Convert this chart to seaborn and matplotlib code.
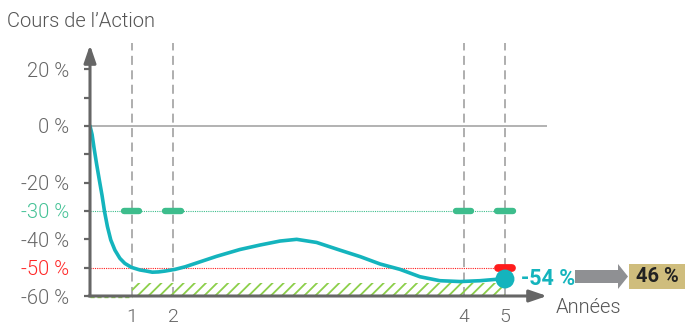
import matplotlib
matplotlib.use("Agg")
import matplotlib.pyplot as plt
import matplotlib.transforms as mtransforms
from matplotlib.patches import FancyArrow, Rectangle
import seaborn as sns

# Share price path (% vs. initial level). Horizontal axis: years 1, 2, 4, 5
# sit at positions 1, 2, 9 and 10 (the middle years are stretched out).
path_x = [0.00, 0.05, 0.10, 0.16, 0.23, 0.29, 0.35, 0.42, 0.50, 0.60, 0.72,
          0.84, 1.00, 1.20, 1.36, 1.50, 1.65, 1.81, 2.05, 2.29, 3.05, 3.61,
          4.10, 4.58, 4.98, 5.46, 6.02, 6.51, 6.99, 7.47, 7.95, 8.43, 8.92,
          9.40, 9.80, 10.00]
path_y = [0.0, -3.0, -8.0, -13.5, -19.5, -24.5, -30.2, -35.5, -40.2, -43.8,
          -46.7, -48.5, -49.9, -50.8, -51.2, -51.6, -51.5, -51.2, -50.6, -49.7,
          -46.0, -43.6, -42.0, -40.6, -40.0, -41.1, -43.8, -46.1, -48.7, -50.6,
          -53.2, -54.6, -54.9, -54.6, -54.1, -54.0]

year_labels = ["1", "2", "4", "5"]
year_pos = [1, 2, 9, 10]

y_ticks = [20, 10, 0, -10, -20, -30, -40, -50, -60]
y_labels = ["20 %", "", "0 %", "", "-20 %", "-30 %", "-40 %", "-50 %", "-60 %"]

coupon_barrier = -30      # green observation level
capital_barrier = -50     # red level at maturity
loss_zone_top = -55.3     # hatched loss zone
final_value = -54
final_label = "-54 %"
payout_label = "46 %"

TEAL = "#14b4bd"
GREEN = "#3dbd8c"
RED = "#ff1c1c"
LIME = "#8ccf4a"
AXIS = "#666666"
TXT = "#666666"
FONT = ["Roboto", "DejaVu Sans"]

sns.set_theme(style="white")
plt.rcParams["font.family"] = FONT
plt.rcParams["hatch.linewidth"] = 1.3

W, H, DPI = 686, 327, 100
fig = plt.figure(figsize=(W / DPI, H / DPI), dpi=DPI)
fig.patch.set_facecolor("white")

# axes box in pixels: left 90, right 547, top 45, bottom 296
ax = fig.add_axes([90 / W, (H - 296) / H, (547 - 90) / W, (296 - 45) / H])
ax.set_xlim(0, (547 - 90) / 41.5)
ax.set_ylim(-60, -60 + (296 - 45) / (170 / 60))
ax.set_facecolor("none")
for s in ax.spines.values():
    s.set_visible(False)

# reference lines
ax.axhline(0, color="#a5a5a5", lw=1.2, zorder=1)
ax.vlines(year_pos, -60, ax.get_ylim()[1] + 0.8, colors="#a8a8a8", lw=1.3,
          linestyles=(0, (5, 3)), clip_on=False, zorder=1)
ax.plot([0, year_pos[-1]], [coupon_barrier] * 2, color=GREEN, lw=0.8,
        ls=(0, (1, 1)), zorder=2)
ax.plot([0, year_pos[-1] - 0.2], [capital_barrier] * 2, color=RED, lw=0.8,
        ls=(0, (1, 1)), zorder=2)

# hatched loss zone
ax.fill_between([year_pos[0], year_pos[-1]], -60, loss_zone_top,
                facecolor="none", edgecolor=LIME, hatch="///", lw=0, zorder=1)
ax.plot([0, year_pos[0]], [-60.4, -60.4], color=LIME, lw=1.0, ls=(0, (3, 2)),
        clip_on=False, zorder=1)

# share price curve
sns.lineplot(x=path_x, y=path_y, ax=ax, color=TEAL, lw=2.6, zorder=4,
             solid_capstyle="round", solid_joinstyle="round")

# observation markers
for xp in year_pos:
    ax.plot([xp - 0.19, xp + 0.19], [coupon_barrier] * 2, color=GREEN,
            lw=4.6, solid_capstyle="round", zorder=5)
ax.plot([year_pos[-1] - 0.17, year_pos[-1] + 0.17], [capital_barrier] * 2,
        color=RED, lw=5.6, solid_capstyle="round", zorder=5)
sns.scatterplot(x=[year_pos[-1]], y=[final_value], ax=ax, s=185, color=TEAL,
                edgecolor="none", zorder=6, clip_on=False)

# axes with arrow heads
arrow_kw = dict(arrowstyle="-|>,head_length=1.05,head_width=0.36",
                color=AXIS, lw=2.2, shrinkA=0, shrinkB=0, mutation_scale=10)
ax.annotate("", xy=(0, ax.get_ylim()[1]), xytext=(0, -60),
            arrowprops=arrow_kw, annotation_clip=False, zorder=7)
ax.annotate("", xy=(ax.get_xlim()[1], -60), xytext=(-0.03, -60),
            arrowprops=arrow_kw, annotation_clip=False, zorder=7)

# ticks
ax.set_yticks(y_ticks, y_labels)
ax.set_xticks(year_pos, year_labels)
ax.tick_params(axis="y", direction="out", length=4, width=1.6, color=AXIS,
               pad=11, labelsize=14.5, labelcolor=TXT, left=True)
ax.tick_params(axis="x", length=0, pad=9, labelsize=14, labelcolor=TXT)
for lab in ax.get_yticklabels() + ax.get_xticklabels():
    lab.set_fontweight(300)
    if lab.get_text() == "-30 %":
        lab.set_color("#45c296")
    elif lab.get_text() == "-50 %":
        lab.set_color("#ff2626")

fig.text(7 / W, (H - 27) / H, "Cours de l\u2019Action", fontsize=14.5,
         fontweight=300, color="#555555", va="baseline", ha="left")
ax.annotate("Ann\u00e9es", xy=(ax.get_xlim()[1], -60), xytext=(6, -12),
            textcoords="offset points", fontsize=14.5, fontweight=300,
            color="#555555", ha="left", va="baseline", annotation_clip=False)

# final level, arrow and payout box, placed relative to the final point
fig.canvas.draw()
cx, cy = ax.transData.transform((year_pos[-1], final_value))
ax.annotate(final_label, xy=(year_pos[-1], final_value), xytext=(11.5, 0),
            textcoords="offset points", fontsize=15.5, fontweight="bold",
            color=TEAL, ha="left", va="center", annotation_clip=False)
ident = mtransforms.IdentityTransform()
fig.add_artist(FancyArrow(cx + 70, cy + 2.5, 43, 0, width=13, head_width=25,
                          head_length=10, length_includes_head=False,
                          color="#8f9093", lw=0, transform=ident))
fig.add_artist(Rectangle((cx + 124, cy - 10), 56, 25, facecolor="#cfbd7d",
                         edgecolor="none", transform=ident))
fig.text((cx + 152) / W, (cy + 2.5) / H, payout_label, fontsize=14.5,
         fontweight="bold", color="#222222", ha="center", va="center")

fig.savefig("out.png", dpi=DPI)
